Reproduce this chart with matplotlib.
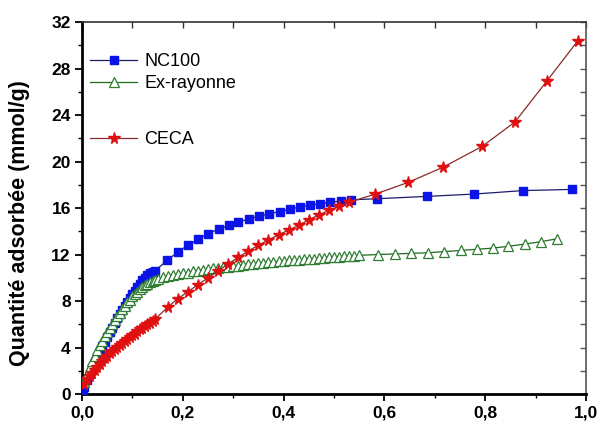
import matplotlib.pyplot as plt
from matplotlib.ticker import MultipleLocator, FuncFormatter

# NC100 (carrés bleus)
nc100_x = [0.002, 0.005, 0.01, 0.015, 0.02, 0.025, 0.03, 0.035, 0.04, 0.045, 0.05,
           0.055, 0.06, 0.065, 0.07, 0.075, 0.08, 0.085, 0.09, 0.095, 0.1,
           0.105, 0.11, 0.115, 0.12, 0.125, 0.13, 0.135, 0.14, 0.145,
           0.169, 0.19, 0.21, 0.23, 0.25, 0.272, 0.292, 0.31, 0.331, 0.351,
           0.371, 0.393, 0.413, 0.433, 0.452, 0.472, 0.492, 0.514, 0.534,
           0.585, 0.685, 0.778, 0.875, 0.972]
nc100_y = [0.3, 0.6, 1.2, 1.7, 2.2, 2.7, 3.2, 3.6, 4.1, 4.5, 4.9,
           5.3, 5.7, 6.1, 6.5, 6.9, 7.2, 7.6, 7.9, 8.3, 8.6,
           8.9, 9.2, 9.5, 9.8, 10.0, 10.2, 10.4, 10.5, 10.6,
           11.5, 12.2, 12.8, 13.3, 13.8, 14.2, 14.5, 14.8, 15.05, 15.3,
           15.5, 15.7, 15.9, 16.1, 16.25, 16.35, 16.5, 16.6, 16.7,
           16.8, 17.0, 17.2, 17.5, 17.6]

# Ex-rayonne (triangles verts)
exr_x = [0.005, 0.01, 0.015, 0.02, 0.025, 0.03, 0.035, 0.04, 0.045, 0.05,
         0.055, 0.06, 0.065, 0.07, 0.075, 0.08, 0.085, 0.09, 0.095, 0.1,
         0.105, 0.11, 0.115, 0.12, 0.125, 0.13, 0.135, 0.14, 0.145, 0.15,
         0.16, 0.17, 0.18, 0.19, 0.20, 0.21, 0.22, 0.23, 0.24, 0.25,
         0.26, 0.27, 0.28, 0.29, 0.30, 0.31, 0.32, 0.33, 0.34, 0.35,
         0.36, 0.37, 0.38, 0.39, 0.40, 0.41, 0.42, 0.43, 0.44, 0.45,
         0.46, 0.47, 0.48, 0.49, 0.50, 0.51, 0.52, 0.53, 0.54, 0.55,
         0.587, 0.621, 0.653, 0.686, 0.718, 0.752, 0.783, 0.815, 0.845,
         0.879, 0.91, 0.942]
exr_y = [1.0, 1.7, 2.3, 2.8, 3.3, 3.8, 4.2, 4.6, 5.0, 5.3,
         5.7, 6.0, 6.4, 6.7, 7.0, 7.3, 7.6, 7.9, 8.1, 8.4,
         8.6, 8.8, 9.0, 9.2, 9.35, 9.5, 9.6, 9.7, 9.8, 9.9,
         10.05, 10.15, 10.25, 10.3, 10.4, 10.45, 10.55, 10.6, 10.7, 10.75,
         10.8, 10.85, 10.9, 10.95, 11.0, 11.05, 11.1, 11.15, 11.2, 11.25,
         11.3, 11.35, 11.38, 11.42, 11.45, 11.5, 11.52, 11.55, 11.6, 11.62,
         11.65, 11.7, 11.72, 11.75, 11.78, 11.8, 11.83, 11.86, 11.9, 11.93,
         12.0, 12.05, 12.1, 12.15, 12.25, 12.35, 12.45, 12.55, 12.7,
         12.9, 13.1, 13.35]

# CECA (étoiles rouges)
ceca_x = [0.005, 0.01, 0.015, 0.02, 0.025, 0.03, 0.035, 0.04, 0.045, 0.05,
          0.055, 0.06, 0.065, 0.07, 0.075, 0.08, 0.085, 0.09, 0.095, 0.1,
          0.105, 0.11, 0.115, 0.12, 0.125, 0.13, 0.135, 0.14, 0.145,
          0.171, 0.19, 0.21, 0.23, 0.25, 0.27, 0.29, 0.31, 0.33, 0.35,
          0.37, 0.39, 0.41, 0.43, 0.45, 0.47, 0.49, 0.51, 0.53,
          0.582, 0.647, 0.716, 0.794, 0.859, 0.922, 0.984]
ceca_y = [0.9, 1.25, 1.55, 1.85, 2.1, 2.35, 2.6, 2.85, 3.1, 3.3,
          3.5, 3.7, 3.9, 4.05, 4.2, 4.4, 4.55, 4.75, 4.9, 5.05,
          5.2, 5.4, 5.55, 5.7, 5.85, 6.0, 6.15, 6.3, 6.45,
          7.5, 8.2, 8.8, 9.4, 10.0, 10.6, 11.2, 11.75, 12.3, 12.8,
          13.25, 13.7, 14.1, 14.5, 15.0, 15.4, 15.8, 16.15, 16.5,
          17.2, 18.2, 19.5, 21.3, 23.4, 26.9, 30.4]

plt.rcParams['font.family'] = ['Liberation Sans', 'DejaVu Sans']

fig = plt.figure(figsize=(6.01, 4.25), dpi=100)
ax = fig.add_axes([0.1364, 0.0729, 0.8386, 0.8753])

l1, = ax.plot(nc100_x, nc100_y, '-', color='#1c1c6b', lw=0.9, marker='s',
              ms=5.8, mfc='#0a14e6', mec='#0a14e6', zorder=3, label='NC100')
l2, = ax.plot(exr_x, exr_y, '-', color='#1f6b1f', lw=0.9, marker='^',
              ms=7, mfc='white', mec='#2e7d32', mew=0.9, zorder=4, label='Ex-rayonne')
l3, = ax.plot(ceca_x, ceca_y, '-', color='#8b2a2a', lw=0.9, marker='*',
              ms=8.5, mfc='#e01010', mec='#e01010', zorder=5, label='CECA')

ax.set_xlim(0, 1.0)
ax.set_ylim(0, 32)
ax.xaxis.set_major_locator(MultipleLocator(0.2))
ax.xaxis.set_minor_locator(MultipleLocator(0.1))
ax.yaxis.set_major_locator(MultipleLocator(4))
ax.yaxis.set_minor_locator(MultipleLocator(2))
ax.xaxis.set_major_formatter(FuncFormatter(lambda v, p: f"{v:.1f}".replace('.', ',')))
ax.yaxis.set_major_formatter(FuncFormatter(lambda v, p: f"{v:.0f}"))

ax.tick_params(axis='both', which='major', direction='out', length=5, width=1.3,
               labelsize=12.5, pad=3)
ax.tick_params(axis='both', which='minor', direction='out', length=3, width=1.0)
for lab in ax.get_xticklabels() + ax.get_yticklabels():
    lab.set_fontweight('bold')

# graduations intérieures en haut et à droite
sec_x = ax.secondary_xaxis('top')
sec_x.xaxis.set_major_locator(MultipleLocator(0.1))
sec_x.tick_params(direction='in', length=4, width=1.0, labeltop=False, color='#333333')
sec_y = ax.secondary_yaxis('right')
sec_y.yaxis.set_major_locator(MultipleLocator(2))
sec_y.tick_params(direction='in', length=4, width=1.0, labelright=False, color='#555555')
sec_x.spines['top'].set_visible(False)
sec_y.spines['right'].set_visible(False)

ax.spines['left'].set_linewidth(2)
ax.spines['bottom'].set_linewidth(2)
ax.spines['top'].set_linewidth(1.2)
ax.spines['top'].set_color('#333333')
ax.spines['right'].set_linewidth(1.2)
ax.spines['right'].set_color('#555555')

ax.set_ylabel('Quantité adsorbée (mmol/g)', fontsize=15.5, fontweight='bold')
ax.yaxis.set_label_coords(-0.103, 0.46)

leg_kw = dict(frameon=False, fontsize=13, handlelength=2.6, handletextpad=0.4,
              borderaxespad=0, borderpad=0, loc='upper left')
leg1 = ax.legend(handles=[l1, l2], bbox_to_anchor=(0.016, 0.917),
                 labelspacing=0.3, **leg_kw)
ax.add_artist(leg1)
ax.legend(handles=[l3], bbox_to_anchor=(0.016, 0.707), **leg_kw)

fig.savefig('out.png', dpi=100)
